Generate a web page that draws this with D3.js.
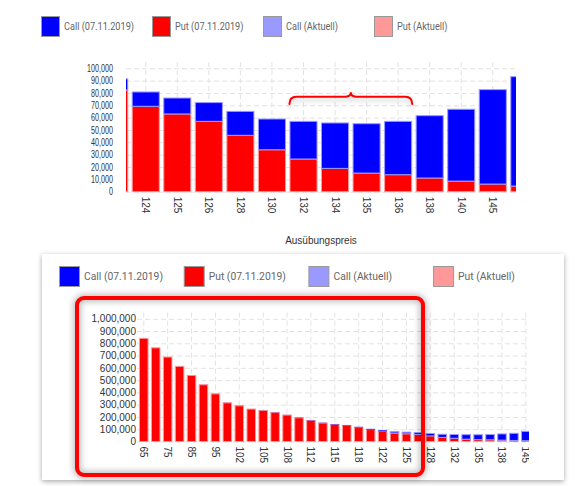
<!DOCTYPE html>
<html>
<head>
<meta charset="utf-8">
<script src="https://cdn.jsdelivr.net/npm/d3@7"></script>
<style>
  body { margin: 0; background: #fff; }
  svg { display: block; }
  .axis text { font-family: "Liberation Sans", Arial, sans-serif; font-size: 10px; fill: #333; }
  .legend text { font-family: Roboto, sans-serif; font-size: 11px; fill: #666; }
  .grid line { stroke: #e2e2e2; stroke-dasharray: 5,3; }
</style>
</head>
<body>
<svg id="chart" width="588" height="486"></svg>
<script>
// strikes (Ausübungspreis) and open interest per series
const strikes = [65, 70, 75, 80, 85, 90, 95, 100, 102, 104, 105, 106, 108, 110, 112, 114, 115,
                 116, 118, 120, 122, 124, 125, 126, 128, 130, 132, 134, 135, 136, 138, 140, 145, 150];
const putOI = [840000, 763000, 688000, 612000, 538000, 462000, 388000, 315000, 291000, 264000, 253000,
               237000, 215000, 193000, 172000, 150000, 139000, 131000, 115000, 97000, 82400, 69200,
               63000, 57000, 45700, 34000, 26500, 18900, 15100, 13800, 11100, 8600, 6200, 4600];
const callOI = [300, 300, 400, 400, 500, 500, 600, 700, 800, 900, 1000, 1200, 1500, 1800, 2200,
                2600, 3000, 3500, 4500, 6000, 9000, 11600, 12900, 15200, 19400, 24900, 30500, 36800,
                40000, 43200, 50500, 58200, 76500, 88600];

const legendLabels = ["Call (07.11.2019)", "Put (07.11.2019)", "Call (Aktuell)", "Put (Aktuell)"];
const legendColors = ["#0000ff", "#ff0000", "#9999ff", "#ff9999"];

const topYTicks = [0, 10000, 20000, 30000, 40000, 50000, 60000, 70000, 80000, 90000, 100000];
const bottomYTicks = [0, 100000, 200000, 300000, 400000, 500000, 600000, 700000, 800000, 900000, 1000000];
const topXTicks = [124, 125, 126, 128, 130, 132, 134, 135, 136, 138, 140, 145];
const bottomXTicks = [65, 75, 85, 95, 102, 105, 108, 112, 115, 118, 122, 125, 128, 132, 135, 138, 145];

const rows = strikes.map((s, i) => ({ strike: s, put: putOI[i], call: callOI[i] }));
const stacked = d3.stack().keys(["put", "call"])(rows);
const fill = { put: "#ff0000", call: "#0000ff" };
const edge = { put: "#ff9a9a", call: "#9a9aff" };
const fmt = d3.format(",");

const svg = d3.select("#chart");
const defs = svg.append("defs");

const cardShadow = defs.append("filter").attr("id", "cardShadow")
  .attr("x", "-10%").attr("y", "-10%").attr("width", "120%").attr("height", "125%");
cardShadow.append("feDropShadow").attr("dx", 0).attr("dy", 1.5).attr("stdDeviation", 2.5)
  .attr("flood-color", "#000").attr("flood-opacity", 0.35);

const softShadow = defs.append("filter").attr("id", "softShadow")
  .attr("x", "-20%").attr("y", "-50%").attr("width", "140%").attr("height", "300%");
softShadow.append("feDropShadow").attr("dx", 0).attr("dy", 3).attr("stdDeviation", 2.5)
  .attr("flood-color", "#000").attr("flood-opacity", 0.22);

const blur = defs.append("filter").attr("id", "blur")
  .attr("x", "-10%").attr("y", "-10%").attr("width", "120%").attr("height", "120%");
blur.append("feGaussianBlur").attr("stdDeviation", 3);

function drawLegend(g, x0, step, y, box, textWidth) {
  const item = g.attr("class", "legend").selectAll("g")
    .data(legendLabels)
    .join("g")
    .attr("transform", (d, i) => "translate(" + (x0 + i * step) + "," + y + ")");
  item.append("rect")
    .attr("x", 0.5).attr("y", 0.5)
    .attr("width", box[0] - 1).attr("height", box[1] - 1)
    .attr("fill", (d, i) => legendColors[i])
    .attr("stroke", "#999");
  const texts = item.append("text")
    .attr("x", box[0] + 4)
    .attr("y", box[1] / 2)
    .attr("dy", "0.35em")
    .text(d => d);
  const k = textWidth / texts.node().getComputedTextLength();
  texts.each(function () {
    const w = this.getComputedTextLength();
    d3.select(this).attr("textLength", w * k).attr("lengthAdjust", "spacingAndGlyphs");
  });
}

function drawChart(o) {
  const x = d3.scaleBand().domain(strikes)
    .paddingInner(o.pad).paddingOuter(o.pad / 2);
  const r0 = o.firstLeft - strikes.indexOf(o.firstStrike) * o.step - o.step * o.pad / 2;
  x.range([r0, r0 + o.step * strikes.length]);
  const y = d3.scaleLinear().domain([0, o.yMax]).range([o.y0, o.y1]);

  const clipId = o.id + "Clip";
  defs.append("clipPath").attr("id", clipId)
    .append("rect")
    .attr("x", o.clip[0]).attr("y", o.y1 - 20)
    .attr("width", o.clip[1] - o.clip[0]).attr("height", o.y0 - o.y1 + 60);

  const g = svg.append("g").attr("clip-path", "url(#" + clipId + ")");

  const grid = g.append("g").attr("class", "grid");
  grid.selectAll("line.h").data(o.yTicks).join("line").attr("class", "h")
    .attr("x1", o.clip[0]).attr("x2", o.clip[1])
    .attr("y1", d => y(d) + 0.5).attr("y2", d => y(d) + 0.5);
  grid.selectAll("line.v").data(o.xTicks).join("line").attr("class", "v")
    .attr("x1", d => x(d) + x.bandwidth() / 2).attr("x2", d => x(d) + x.bandwidth() / 2)
    .attr("y1", y(o.yMax)).attr("y2", o.y0);

  g.selectAll("g.layer").data(stacked).join("g").attr("class", "layer")
    .attr("fill", d => fill[d.key])
    .each(function (layer) {
      d3.select(this).selectAll("rect").data(layer).join("rect")
        .attr("x", d => x(d.data.strike) + 0.5)
        .attr("width", x.bandwidth() - 1)
        .attr("y", d => y(d[1]))
        .attr("height", d => Math.max(0, y(d[0]) - y(d[1])))
        // very thin segments get no outline, so they stay a faint tint only
        .attr("stroke", d => (y(d[0]) - y(d[1]) < 1.2 ? "none" : edge[layer.key]));
    });

  const xAxis = g.append("g").attr("class", "axis")
    .attr("transform", "translate(0," + o.y0 + ")")
    .call(d3.axisBottom(x).tickValues(o.xTicks).tickSize(0).tickPadding(0));
  xAxis.select(".domain").remove();
  xAxis.selectAll("text")
    .attr("transform", "rotate(90)")
    .attr("x", 5).attr("y", 0).attr("dy", "0.35em")
    .style("text-anchor", "start");

  const yAxis = svg.append("g").attr("class", "axis")
    .attr("transform", "translate(" + o.yLabelX + ",0)")
    .call(d3.axisLeft(y).tickValues(o.yTicks).tickFormat(fmt).tickSize(0).tickPadding(0));
  yAxis.select(".domain").remove();
  yAxis.selectAll("text").attr("transform", "scale(" + o.labelScale + ",1)");

  return { x, y };
}

// ---------- top chart (zoomed crop) ----------
drawLegend(svg.append("g"), 41, 111, 16, [19, 21], 70);

const topChart = drawChart({
  id: "top", firstStrike: 124, firstLeft: 131.7, step: 31.55, pad: 0.11,
  yMax: 105000, y0: 191.7, y1: 62.1, clip: [126, 516],
  yTicks: topYTicks, xTicks: topXTicks, yLabelX: 113, labelScale: 0.72
});

svg.append("text")
  .attr("x", 321).attr("y", 244)
  .attr("text-anchor", "middle")
  .style("font-family", "'Liberation Sans', Arial, sans-serif")
  .style("font-size", "10px").style("fill", "#333")
  .text("Ausübungspreis");

// brace over strikes 132 .. 136
{
  const bx0 = topChart.x(132), bx1 = topChart.x(136) + topChart.x.bandwidth(), bm = (bx0 + bx1) / 2;
  const by = topChart.y(77000), bEnd = topChart.y(71000), bPeak = topChart.y(80500);
  const path = d3.path();
  path.moveTo(bx0, bEnd);
  path.quadraticCurveTo(bx0, by, bx0 + 7, by);
  path.lineTo(bm - 5, by);
  path.quadraticCurveTo(bm, by, bm, bPeak);
  path.quadraticCurveTo(bm, by, bm + 5, by);
  path.lineTo(bx1 - 7, by);
  path.quadraticCurveTo(bx1, by, bx1, bEnd);
  svg.append("path").attr("d", path.toString())
    .attr("fill", "none").attr("stroke", "#ff0000").attr("stroke-width", 2)
    .attr("stroke-linecap", "round")
    .attr("filter", "url(#softShadow)");
}

// ---------- bottom chart (card) ----------
svg.append("rect")
  .attr("x", 42).attr("y", 254).attr("width", 522).attr("height", 226)
  .attr("fill", "#fff").attr("filter", "url(#cardShadow)");

drawLegend(svg.append("g"), 59, 124.7, 266, [21, 21], 79);

drawChart({
  id: "bottom", firstStrike: 65, firstLeft: 139, step: 11.94, pad: 0.2,
  yMax: 1050000, y0: 441.5, y1: 312.6, clip: [137, 529],
  yTicks: bottomYTicks, xTicks: bottomXTicks, yLabelX: 136, labelScale: 1
});

// highlight frame
const frame = { x: 77, y: 298, w: 346, h: 177, r: 7 };
svg.append("rect")
  .attr("x", frame.x).attr("y", frame.y).attr("width", frame.w).attr("height", frame.h)
  .attr("rx", frame.r)
  .attr("fill", "none").attr("stroke", "#000").attr("stroke-opacity", 0.28)
  .attr("stroke-width", 7).attr("filter", "url(#blur)");
svg.append("rect")
  .attr("x", frame.x).attr("y", frame.y).attr("width", frame.w).attr("height", frame.h)
  .attr("rx", frame.r)
  .attr("fill", "none").attr("stroke", "#ff0000").attr("stroke-width", 4);
</script>
</body>
</html>
